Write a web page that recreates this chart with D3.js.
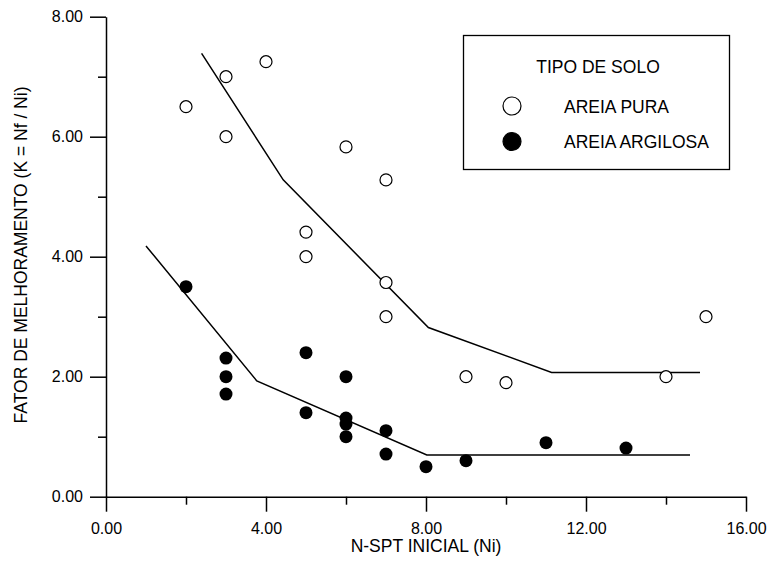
<!DOCTYPE html>
<html>
<head>
<meta charset="utf-8">
<script src="https://cdn.jsdelivr.net/npm/d3@7"></script>
<style>
  body { margin: 0; background: #fff; }
  text { font-family: "Liberation Sans", Arial, sans-serif; fill: #000; }
</style>
</head>
<body>
<svg id="chart" width="768" height="563"></svg>
<script>
// AREIA PURA (open circles)
const puraN = [2, 3, 3, 4, 5, 5, 6, 7, 7, 7, 9, 10, 14, 15];
const puraK = [6.5, 7.0, 6.0, 7.25, 4.41, 4.0, 5.83, 5.28, 3.57, 3.0, 2.0, 1.9, 2.0, 3.0];
// AREIA ARGILOSA (filled circles)
const argilosaN = [2, 3, 3, 3, 5, 5, 6, 6, 6, 6, 7, 7, 8, 9, 11, 13];
const argilosaK = [3.5, 2.31, 2.0, 1.71, 2.4, 1.4, 2.0, 1.31, 1.21, 1.0, 1.1, 0.71, 0.5, 0.6, 0.9, 0.81];
// trend lines
const puraTrendN = [2.39, 4.43, 8.06, 11.14, 14.85];
const puraTrendK = [7.39, 5.28, 2.82, 2.07, 2.07];
const argilosaTrendN = [1.0, 3.77, 8.02, 14.6];
const argilosaTrendK = [4.18, 1.93, 0.695, 0.695];
// ticks
const xMajor = [0, 4, 8, 12, 16], xMinor = [2, 6, 10, 14];
const yMajor = [0, 2, 4, 6, 8], yMinor = [1, 3, 5, 7];
const legendLabels = ["AREIA PURA", "AREIA ARGILOSA"];

var svg = d3.select("#chart");

var x = d3.scaleLinear().domain([0, 16]).range([106, 746]);
var y = d3.scaleLinear().domain([0, 8]).range([496.7, 16.7]);

var fmt = d3.format(".2f");

// minor ticks first
svg.append("g")
    .attr("transform", "translate(0,496.7)")
    .call(d3.axisBottom(x).tickValues(xMinor).tickSize(8).tickSizeOuter(0).tickFormat(""))
    .call(g => g.select(".domain").remove());
svg.append("g")
    .attr("transform", "translate(106,0)")
    .call(d3.axisLeft(y).tickValues(yMinor).tickSize(8).tickSizeOuter(0).tickFormat(""))
    .call(g => g.select(".domain").remove());

// major axes
var xAxis = svg.append("g")
    .attr("transform", "translate(0,496.7)")
    .call(d3.axisBottom(x).tickValues(xMajor).tickSize(15).tickSizeOuter(0).tickPadding(11).tickFormat(fmt));
var yAxis = svg.append("g")
    .attr("transform", "translate(106,0)")
    .call(d3.axisLeft(y).tickValues(yMajor).tickSize(16).tickSizeOuter(0).tickPadding(7).tickFormat(fmt));

svg.selectAll(".tick line, .domain").attr("stroke", "#000").attr("stroke-width", 1.5);
svg.selectAll(".tick text")
    .attr("font-family", "Liberation Sans, Arial, sans-serif")
    .attr("font-size", 16)
    .attr("fill", "#000");

// axis titles
svg.append("text")
    .attr("x", 426)
    .attr("y", 552)
    .attr("text-anchor", "middle")
    .attr("font-size", 17.5)
    .text("N-SPT INICIAL (Ni)");

svg.append("text")
    .attr("transform", "translate(27,255) rotate(-90)")
    .attr("text-anchor", "middle")
    .attr("font-size", 17.5)
    .text("FATOR DE MELHORAMENTO (K = Nf / Ni)");

// trend lines
var line = d3.line().x(d => x(d[0])).y(d => y(d[1]));
svg.append("path")
    .datum(d3.zip(puraTrendN, puraTrendK))
    .attr("d", line)
    .attr("fill", "none").attr("stroke", "#000").attr("stroke-width", 1.5);
svg.append("path")
    .datum(d3.zip(argilosaTrendN, argilosaTrendK))
    .attr("d", line)
    .attr("fill", "none").attr("stroke", "#000").attr("stroke-width", 1.5);

// points
svg.append("g").selectAll("circle")
    .data(d3.zip(puraN, puraK))
    .enter().append("circle")
    .attr("cx", d => x(d[0]))
    .attr("cy", d => y(d[1]))
    .attr("r", 6)
    .attr("fill", "#fff")
    .attr("stroke", "#000")
    .attr("stroke-width", 1.2);

svg.append("g").selectAll("circle")
    .data(d3.zip(argilosaN, argilosaK))
    .enter().append("circle")
    .attr("cx", d => x(d[0]))
    .attr("cy", d => y(d[1]))
    .attr("r", 6.5)
    .attr("fill", "#000");

// legend
var legend = svg.append("g");
legend.append("rect")
    .attr("x", 463.5).attr("y", 35.5)
    .attr("width", 266).attr("height", 134)
    .attr("fill", "#fff").attr("stroke", "#000").attr("stroke-width", 1.3);
legend.append("text")
    .attr("x", 598).attr("y", 72.5)
    .attr("text-anchor", "middle")
    .attr("font-size", 17.5)
    .text("TIPO DE SOLO");

var item = legend.selectAll(".item")
    .data(legendLabels)
    .enter().append("g")
    .attr("class", "item")
    .attr("transform", (d, i) => "translate(0," + (106 + i * 35.5) + ")");
item.append("circle")
    .attr("cx", 512)
    .attr("r", 9)
    .attr("fill", (d, i) => i === 0 ? "#fff" : "#000")
    .attr("stroke", "#000")
    .attr("stroke-width", 1.2);
item.append("text")
    .attr("x", 564)
    .attr("y", 6.5)
    .attr("font-size", 17.5)
    .text(d => d);
</script>
</body>
</html>
